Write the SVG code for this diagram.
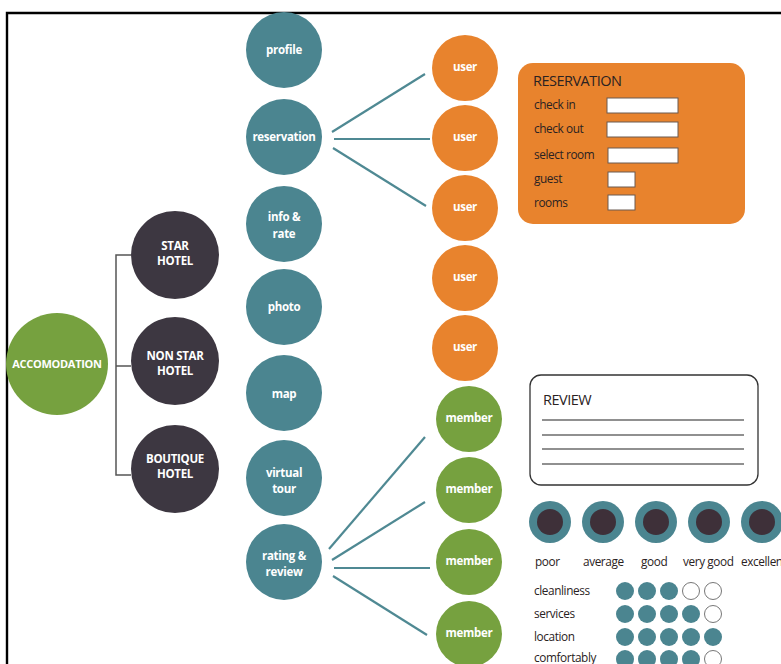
<svg xmlns="http://www.w3.org/2000/svg" width="781" height="664" viewBox="0 0 781 664">
<style>
.teal{fill:#4b8590}
.org{fill:#e8832d}
.grn{fill:#76a13f}
.drk{fill:#3d3741}
.inr{fill:#3e3039}
.lbl{font-family:"Open Sans","Liberation Sans",sans-serif;font-weight:bold;font-size:11.5px;fill:#ffffff;text-anchor:middle;letter-spacing:-0.3px}
.con{stroke:#4f8993;stroke-width:2.2;fill:none}
.brk{stroke:#555;stroke-width:1.5;fill:none}
.ft{font-family:"Open Sans","Liberation Sans",sans-serif;font-size:11.8px;fill:#2a2222;letter-spacing:-0.4px}
.hd{font-family:"Open Sans","Liberation Sans",sans-serif;font-size:14.5px;fill:#2a2222;letter-spacing:-0.5px}
.inp{fill:#fff;stroke:#6b5a50;stroke-width:1}
.rl{stroke:#222;stroke-width:1.2}
.dot{fill:#4b8590}
.emp{fill:#fff;stroke:#777;stroke-width:1}
</style>
<rect width="781" height="664" fill="#fff"/>
<path d="M7,664 V13 H781" fill="none" stroke="#000" stroke-width="2.4"/>

<g id="connectors">
<path class="brk" d="M131,255 H116 V475 H131 M116,366 H131"/>
<line class="con" x1="332" y1="132" x2="425" y2="74"/>
<line class="con" x1="334" y1="139" x2="430" y2="139"/>
<line class="con" x1="333" y1="148" x2="426" y2="206"/>
<line class="con" x1="329" y1="549" x2="425" y2="437"/>
<line class="con" x1="332" y1="560" x2="425" y2="502"/>
<line class="con" x1="334" y1="568" x2="430" y2="568"/>
<line class="con" x1="333" y1="576" x2="427" y2="635"/>
</g>

<g id="accomodation"><circle class="grn" cx="57" cy="364" r="51"/><text class="lbl" x="57" y="368" style="font-size:11px">ACCOMODATION</text></g>
<g id="star-hotel"><circle class="drk" cx="175" cy="255" r="44"/><text class="lbl" x="175" y="250">STAR</text><text class="lbl" x="175" y="265">HOTEL</text></g>
<g id="non-star-hotel"><circle class="drk" cx="175" cy="361" r="44"/><text class="lbl" x="175" y="360">NON STAR</text><text class="lbl" x="175" y="375">HOTEL</text></g>
<g id="boutique-hotel"><circle class="drk" cx="175" cy="469" r="44"/><text class="lbl" x="175" y="463">BOUTIQUE</text><text class="lbl" x="175" y="478">HOTEL</text></g>

<g id="profile"><circle class="teal" cx="284" cy="50" r="38"/><text class="lbl" x="284" y="54">profile</text></g>
<g id="reservation"><circle class="teal" cx="284" cy="137" r="38"/><text class="lbl" x="284" y="141">reservation</text></g>
<g id="info-rate"><circle class="teal" cx="284" cy="224" r="38"/><text class="lbl" x="284" y="221">info &amp;</text><text class="lbl" x="284" y="238">rate</text></g>
<g id="photo"><circle class="teal" cx="284" cy="307" r="38"/><text class="lbl" x="284" y="311">photo</text></g>
<g id="map"><circle class="teal" cx="284" cy="393" r="38"/><text class="lbl" x="284" y="398">map</text></g>
<g id="virtual-tour"><circle class="teal" cx="284" cy="478" r="38"/><text class="lbl" x="284" y="477">virtual</text><text class="lbl" x="284" y="493">tour</text></g>
<g id="rating-review"><circle class="teal" cx="284" cy="562" r="38"/><text class="lbl" x="284" y="560">rating &amp;</text><text class="lbl" x="284" y="576">review</text></g>

<g id="user1"><circle class="org" cx="465" cy="68" r="33"/><text class="lbl" x="465" y="71">user</text></g>
<g id="user2"><circle class="org" cx="465" cy="138" r="33"/><text class="lbl" x="465" y="141">user</text></g>
<g id="user3"><circle class="org" cx="465" cy="208" r="33"/><text class="lbl" x="465" y="211">user</text></g>
<g id="user4"><circle class="org" cx="465" cy="278" r="33"/><text class="lbl" x="465" y="281">user</text></g>
<g id="user5"><circle class="org" cx="465" cy="348" r="33"/><text class="lbl" x="465" y="351">user</text></g>

<g id="member1"><circle class="grn" cx="469" cy="419" r="33"/><text class="lbl" x="469" y="422">member</text></g>
<g id="member2"><circle class="grn" cx="469" cy="490" r="33"/><text class="lbl" x="469" y="493">member</text></g>
<g id="member3"><circle class="grn" cx="469" cy="562" r="33"/><text class="lbl" x="469" y="565">member</text></g>
<g id="member4"><circle class="grn" cx="469" cy="634" r="33"/><text class="lbl" x="469" y="637">member</text></g>

<g id="reservation-form">
<rect class="org" x="518" y="63" width="227" height="161" rx="15"/>
<text class="hd" x="533" y="86">RESERVATION</text>
<text class="ft" x="534" y="109">check in</text>
<text class="ft" x="534" y="133">check out</text>
<text class="ft" x="534" y="159">select room</text>
<text class="ft" x="534" y="183">guest</text>
<text class="ft" x="534" y="207">rooms</text>
<rect class="inp" x="607" y="98" width="71" height="15"/>
<rect class="inp" x="607" y="122" width="71" height="15"/>
<rect class="inp" x="608" y="148" width="70" height="15"/>
<rect class="inp" x="608" y="172" width="27" height="15"/>
<rect class="inp" x="608" y="195" width="27" height="15"/>
</g>

<g id="review-box">
<rect x="530" y="375" width="228" height="110" rx="11" fill="#fff" stroke="#333" stroke-width="1.3"/>
<text class="hd" x="543" y="405">REVIEW</text>
<line class="rl" x1="542" y1="420" x2="744" y2="420"/>
<line class="rl" x1="542" y1="435" x2="744" y2="435"/>
<line class="rl" x1="542" y1="449" x2="744" y2="449"/>
<line class="rl" x1="542" y1="464" x2="744" y2="464"/>
</g>

<g id="rating-scale">
<circle class="teal" cx="550" cy="522" r="21"/><circle class="inr" cx="550" cy="522" r="13"/>
<circle class="teal" cx="603" cy="522" r="21"/><circle class="inr" cx="603" cy="522" r="13"/>
<circle class="teal" cx="656" cy="522" r="21"/><circle class="inr" cx="656" cy="522" r="13"/>
<circle class="teal" cx="709" cy="522" r="21"/><circle class="inr" cx="709" cy="522" r="13"/>
<circle class="teal" cx="762" cy="522" r="21"/><circle class="inr" cx="762" cy="522" r="13"/>
<text class="ft" x="535" y="566">poor</text>
<text class="ft" x="583" y="566">average</text>
<text class="ft" x="641" y="566">good</text>
<text class="ft" x="683" y="566">very good</text>
<text class="ft" x="741" y="566">excellent</text>
</g>

<g id="rating-grid">
<text class="ft" x="534" y="595">cleanliness</text>
<text class="ft" x="534" y="618">services</text>
<text class="ft" x="534" y="641">location</text>
<text class="ft" x="534" y="662">comfortably</text>
<circle class="dot" cx="625" cy="591" r="9"/><circle class="dot" cx="647" cy="591" r="9"/><circle class="dot" cx="669" cy="591" r="9"/><circle class="emp" cx="691" cy="591" r="8.5"/><circle class="emp" cx="713" cy="591" r="8.5"/>
<circle class="dot" cx="625" cy="614" r="9"/><circle class="dot" cx="647" cy="614" r="9"/><circle class="dot" cx="669" cy="614" r="9"/><circle class="dot" cx="691" cy="614" r="9"/><circle class="emp" cx="713" cy="614" r="8.5"/>
<circle class="dot" cx="625" cy="637" r="9"/><circle class="dot" cx="647" cy="637" r="9"/><circle class="dot" cx="669" cy="637" r="9"/><circle class="dot" cx="691" cy="637" r="9"/><circle class="dot" cx="713" cy="637" r="9"/>
<circle class="dot" cx="625" cy="659" r="9"/><circle class="dot" cx="647" cy="659" r="9"/><circle class="dot" cx="669" cy="659" r="9"/><circle class="dot" cx="691" cy="659" r="9"/><circle class="emp" cx="713" cy="659" r="8.5"/>
</g>
</svg>
